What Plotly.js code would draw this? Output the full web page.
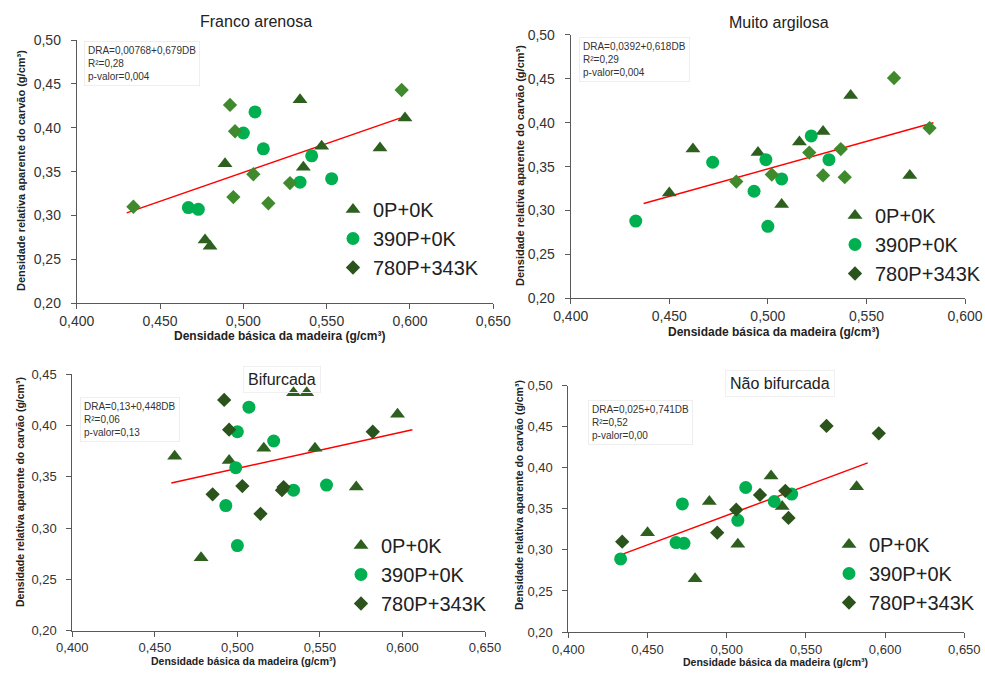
<!DOCTYPE html>
<html>
<head>
<meta charset="utf-8">
<script src="https://cdn.plot.ly/plotly-3.0.1.min.js"></script>
<style>html,body{margin:0;padding:0;background:#fff;}#chart{width:985px;height:678px;}</style>
</head>
<body>
<div id="chart"></div>
<script>
// ---------- DATA ----------
var seriesNames = ['0P+0K', '390P+0K', '780P+343K'];
var panelTitles = ['Franco arenosa', 'Muito argilosa', 'Bifurcada', 'Não bifurcada'];
var equations = [
  'DRA=0,00768+0,679DB<br>R²=0,28<br>p-valor=0,004',
  'DRA=0,0392+0,618DB<br>R²=0,29<br>p-valor=0,004',
  'DRA=0,13+0,448DB<br>R²=0,06<br>p-valor=0,13',
  'DRA=0,025+0,741DB<br>R²=0,52<br>p-valor=0,00'
];
var xTitle = 'Densidade básica da madeira (g/cm³)';
var yTitle = 'Densidade relativa aparente do carvão (g/cm³)';

var xTicksWide = [0.40, 0.45, 0.50, 0.55, 0.60, 0.65];
var xTicksNarrow = [0.40, 0.45, 0.50, 0.55, 0.60];
var yTicks50 = [0.20, 0.25, 0.30, 0.35, 0.40, 0.45, 0.50];
var yTicks45 = [0.20, 0.25, 0.30, 0.35, 0.40, 0.45];

// Franco arenosa
var fa_t_x = [0.534, 0.597, 0.547, 0.582, 0.489, 0.536, 0.477, 0.480];
var fa_t_y = [0.432, 0.411, 0.379, 0.377, 0.359, 0.355, 0.272, 0.265];
var fa_c_x = [0.507, 0.500, 0.512, 0.541, 0.553, 0.534, 0.467, 0.473];
var fa_c_y = [0.418, 0.394, 0.376, 0.368, 0.342, 0.338, 0.309, 0.307];
var fa_d_x = [0.595, 0.492, 0.495, 0.506, 0.528, 0.494, 0.515, 0.434];
var fa_d_y = [0.443, 0.426, 0.396, 0.347, 0.337, 0.321, 0.314, 0.310];
var fa_line_x = [0.430, 0.594];
var fa_line_y = [0.303, 0.411];

// Muito argilosa
var ma_t_x = [0.542, 0.528, 0.516, 0.462, 0.495, 0.572, 0.450, 0.507];
var ma_t_y = [0.431, 0.390, 0.378, 0.370, 0.366, 0.340, 0.320, 0.307];
var ma_c_x = [0.522, 0.472, 0.499, 0.531, 0.507, 0.493, 0.433, 0.500];
var ma_c_y = [0.385, 0.355, 0.358, 0.358, 0.336, 0.322, 0.288, 0.282];
var ma_d_x = [0.564, 0.582, 0.537, 0.521, 0.502, 0.528, 0.539, 0.484];
var ma_d_y = [0.451, 0.394, 0.370, 0.366, 0.341, 0.340, 0.338, 0.333];
var ma_line_x = [0.437, 0.584];
var ma_line_y = [0.308, 0.400];

// Bifurcada
var bi_t_x = [0.534, 0.542, 0.597, 0.516, 0.547, 0.462, 0.495, 0.572, 0.478];
var bi_t_y = [0.432, 0.432, 0.411, 0.378, 0.378, 0.370, 0.366, 0.340, 0.271];
var bi_c_x = [0.507, 0.500, 0.522, 0.499, 0.554, 0.534, 0.493, 0.500];
var bi_c_y = [0.418, 0.394, 0.385, 0.359, 0.342, 0.337, 0.322, 0.283];
var bi_d_x = [0.492, 0.495, 0.582, 0.503, 0.528, 0.527, 0.485, 0.514];
var bi_d_y = [0.425, 0.396, 0.394, 0.341, 0.340, 0.337, 0.333, 0.314];
var bi_line_x = [0.460, 0.606];
var bi_line_y = [0.344, 0.396];

// Não bifurcada
var nb_t_x = [0.528, 0.582, 0.489, 0.535, 0.450, 0.507, 0.480];
var nb_t_y = [0.390, 0.377, 0.359, 0.353, 0.321, 0.307, 0.265];
var nb_c_x = [0.512, 0.541, 0.530, 0.472, 0.507, 0.468, 0.473, 0.433];
var nb_c_y = [0.376, 0.368, 0.359, 0.356, 0.336, 0.309, 0.308, 0.289];
var nb_d_x = [0.563, 0.596, 0.537, 0.521, 0.506, 0.539, 0.494, 0.434];
var nb_d_y = [0.451, 0.442, 0.372, 0.367, 0.349, 0.339, 0.321, 0.310];
var nb_line_x = [0.433, 0.589];
var nb_line_y = [0.294, 0.406];

// ---------- STYLE ----------
var FONT = 'Liberation Sans, Arial, sans-serif';
var cTri = '#2D5F1F', cCirc = '#00B050', cDiaLight = '#3F8A2D', cDiaDark = '#2B531C';
var W = 985, H = 678;

var panels = [
  {tx: fa_t_x, ty: fa_t_y, cx: fa_c_x, cy: fa_c_y, dx: fa_d_x, dy: fa_d_y, lx: fa_line_x, ly: fa_line_y, dcol: cDiaLight},
  {tx: ma_t_x, ty: ma_t_y, cx: ma_c_x, cy: ma_c_y, dx: ma_d_x, dy: ma_d_y, lx: ma_line_x, ly: ma_line_y, dcol: cDiaLight},
  {tx: bi_t_x, ty: bi_t_y, cx: bi_c_x, cy: bi_c_y, dx: bi_d_x, dy: bi_d_y, lx: bi_line_x, ly: bi_line_y, dcol: cDiaDark},
  {tx: nb_t_x, ty: nb_t_y, cx: nb_c_x, cy: nb_c_y, dx: nb_d_x, dy: nb_d_y, lx: nb_line_x, ly: nb_line_y, dcol: cDiaDark}
];

var traces = [];
panels.forEach(function (p, i) {
  var n = i === 0 ? '' : String(i + 1);
  var xa = 'x' + n, ya = 'y' + n, lg = 'legend' + n;
  traces.push({type: 'scatter', mode: 'lines', x: p.lx, y: p.ly, xaxis: xa, yaxis: ya,
    line: {color: '#FF0000', width: 1.5}, showlegend: false, hoverinfo: 'skip'});
  traces.push({type: 'scatter', mode: 'markers', name: seriesNames[0], x: p.tx, y: p.ty, xaxis: xa, yaxis: ya,
    legend: lg, marker: {symbol: 'triangle-up', size: 13, color: cTri, line: {width: 0}}});
  traces.push({type: 'scatter', mode: 'markers', name: seriesNames[1], x: p.cx, y: p.cy, xaxis: xa, yaxis: ya,
    legend: lg, marker: {symbol: 'circle', size: 13, color: cCirc, line: {width: 0}}});
  var diaLegendSame = (p.dcol === cDiaDark);
  traces.push({type: 'scatter', mode: 'markers', name: seriesNames[2], x: p.dx, y: p.dy, xaxis: xa, yaxis: ya,
    legend: lg, showlegend: diaLegendSame, marker: {symbol: 'diamond', size: 11, color: p.dcol, line: {width: 0}}});
  if (!diaLegendSame) {
    traces.push({type: 'scatter', mode: 'markers', name: seriesNames[2], x: [null], y: [null], xaxis: xa, yaxis: ya,
      legend: lg, marker: {symbol: 'diamond', size: 11, color: cDiaDark, line: {width: 0}}});
  }
});

function px2x(px) { return px / W; }
function px2y(py) { return 1 - py / H; }

function xaxis(domain, ticks, anchor, fs) {
  return {domain: domain, range: [0.4 - 1e-9, ticks[ticks.length - 1] + 1e-9], tickvals: ticks, tickformat: '.3f',
    showgrid: false, zeroline: false, showline: true, linecolor: '#595959', linewidth: 1,
    ticks: 'outside', ticklen: 5, tickcolor: '#595959', tickfont: {family: FONT, size: fs, color: '#333'},
    anchor: anchor, fixedrange: true, automargin: false};
}
function yaxis(domain, ticks, anchor, fs) {
  return {domain: domain, range: [0.2 - 1e-9, ticks[ticks.length - 1] + 1e-9], tickvals: ticks, tickformat: '.2f',
    showgrid: false, zeroline: false, showline: true, linecolor: '#595959', linewidth: 1,
    ticks: 'outside', ticklen: 5, tickcolor: '#595959', tickfont: {family: FONT, size: fs, color: '#333'},
    ticklabelstandoff: 7, anchor: anchor, fixedrange: true, automargin: false};
}
function legendAt(lx, ty) {
  return {x: px2x(lx), xanchor: 'left', y: px2y(ty), yanchor: 'top', font: {family: FONT, size: 20, color: '#222'},
    bgcolor: 'rgba(0,0,0,0)', borderwidth: 0, itemsizing: 'trace', tracegroupgap: 0};
}

var annotations = [];
function ann(text, x, y, opts) {
  var a = {text: text, xref: 'paper', yref: 'paper', x: px2x(x), y: px2y(y), showarrow: false,
    xanchor: 'center', yanchor: 'middle', font: {family: FONT, size: 12, color: '#222'}};
  for (var k in opts) a[k] = opts[k];
  annotations.push(a);
}
// panel titles
ann(panelTitles[0], 256, 21, {font: {family: FONT, size: 16, color: '#222'}});
ann(panelTitles[1], 779, 23, {font: {family: FONT, size: 16, color: '#222'}});
ann(panelTitles[2], 282, 379, {font: {family: FONT, size: 16, color: '#222'}, bordercolor: '#f0f0f0', borderwidth: 1, borderpad: 4});
ann(panelTitles[3], 780, 383, {font: {family: FONT, size: 16, color: '#222'}, bordercolor: '#f0f0f0', borderwidth: 1, borderpad: 4});
// equation boxes
var eqPos = [[84, 41], [579, 37], [80, 397], [588, 400]];
equations.forEach(function (t, i) {
  ann(t, eqPos[i][0], eqPos[i][1], {xanchor: 'left', yanchor: 'top', align: 'left',
    font: {family: FONT, size: 10, color: '#333'}, bordercolor: '#eeeeee', borderwidth: 1, borderpad: 3});
});
// x axis titles
var boldTop = {family: FONT, size: 12, color: '#222', weight: 'bold'};
var boldBottom = {family: FONT, size: 10.5, color: '#222', weight: 'bold'};
ann(xTitle, 279, 336, {font: boldTop});
ann(xTitle, 773, 332, {font: boldTop});
ann(xTitle, 243, 661, {font: boldBottom});
ann(xTitle, 775, 662, {font: boldBottom});
// y axis titles
ann(yTitle, 21, 171, {textangle: -90, font: {family: FONT, size: 11, color: '#222', weight: 'bold'}});
ann(yTitle, 520, 166, {textangle: -90, font: {family: FONT, size: 11, color: '#222', weight: 'bold'}});
ann(yTitle, 20, 492, {textangle: -90, font: boldBottom});
ann(yTitle, 519, 495, {textangle: -90, font: boldBottom});

var layout = {
  width: W, height: H, margin: {l: 0, r: 0, t: 0, b: 0, autoexpand: false}, paper_bgcolor: '#fff', plot_bgcolor: '#fff',
  separators: ',.', showlegend: true, font: {family: FONT},
  xaxis:  xaxis([0.0779, 0.5008], xTicksWide, 'y', 14),
  yaxis:  yaxis([0.5527, 0.9410], yTicks50, 'x', 14),
  xaxis2: xaxis([0.5794, 0.9797], xTicksNarrow, 'y2', 14),
  yaxis2: yaxis([0.5600, 0.9484], yTicks50, 'x2', 14),
  xaxis3: xaxis([0.0734, 0.4924], xTicksWide, 'y3', 13),
  yaxis3: yaxis([0.0698, 0.4479], yTicks45, 'x3', 13),
  xaxis4: xaxis([0.5770, 0.9790], xTicksWide, 'y4', 13),
  yaxis4: yaxis([0.0678, 0.4311], yTicks50, 'x4', 13),
  legend:  legendAt(333, 190),
  legend2: legendAt(835, 196),
  legend3: legendAt(341, 526),
  legend4: legendAt(829, 525),
  annotations: annotations
};

Plotly.newPlot('chart', traces, layout, {displayModeBar: false, staticPlot: true});
</script>
</body>
</html>
